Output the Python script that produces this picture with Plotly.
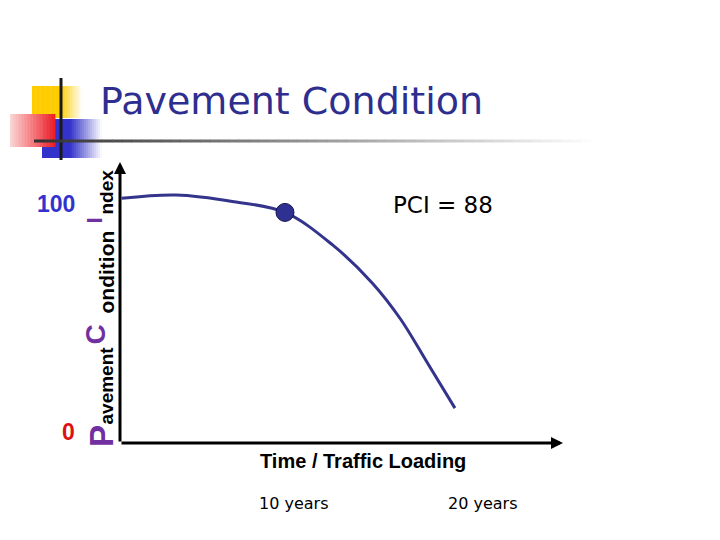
import plotly.graph_objects as go

# curve (years on x, PCI on y)
years = [0.1, 3.4, 6.9, 10.0, 12.9, 15.3, 17.0, 18.6, 20.3]
pci = [102.4, 103.8, 101.0, 96.5, 82.8, 66.9, 51.9, 33.9, 14.6]

dot_year = [10.0]
dot_pci = [96.5]

y_tick_vals = [100, 4.6]
y_tick_text = ['100', '0']
y_tick_colors = ['#3333CC', '#DD1111']

x_tick_vals = [10.5, 22.0]
x_tick_text = ['10 years', '20 years']

X_MAX = 26.85
Y_MAX = 117.6

# page body has an 8px margin, so screen pixels are shifted by this
OFF = 8
# plot box in screen pixels
SL, ST, W, H = 120, 162, 443, 281
L, T = SL - OFF, ST - OFF
ARIAL = 'Liberation Sans, Arial, sans-serif'
TAHOMA = 'DejaVu Sans, Verdana, sans-serif'
PURPLE = '#7030A0'


def px(x):
    return (x - SL) / W


def py(y):
    return (ST + H - y) / H


def lerp(c1, c2, t):
    t = max(0.0, min(1.0, t))
    return 'rgb(%d,%d,%d)' % tuple(round(a + (b - a) * t) for a, b in zip(c1, c2))


fig = go.Figure()

fig.add_trace(go.Scatter(x=years, y=pci, mode='lines',
                         line={'color': '#34348C', 'width': 3, 'shape': 'spline',
                               'smoothing': 1.0},
                         hoverinfo='skip', showlegend=False))
fig.add_trace(go.Scatter(x=dot_year, y=dot_pci, mode='markers',
                         marker={'size': 18, 'color': '#2E3192',
                                 'line': {'color': '#15154A', 'width': 1}},
                         showlegend=False))

shapes = []


def grad_rect(x0, x1, y0, y1, c_left, c_right, solid_until=None, n=30):
    # horizontal gradient made of thin slices
    step = (x1 - x0) / n
    for i in range(n):
        xa = x0 + i * step
        xm = xa + step / 2
        if solid_until is not None:
            t = 0 if xm <= solid_until else (xm - solid_until) / (x1 - solid_until)
        else:
            t = (xm - x0) / (x1 - x0)
        col = lerp(c_left, c_right, t)
        shapes.append(dict(type='rect', xref='paper', yref='paper',
                           x0=px(xa), x1=px(xa + step + 0.4), y0=py(y1), y1=py(y0),
                           fillcolor=col, line={'width': 0}))


# logo squares
grad_rect(32, 82, 86, 118, (255, 204, 0), (255, 255, 255), solid_until=60)
grad_rect(42, 102, 119, 158, (51, 51, 204), (255, 255, 255), solid_until=70)
grad_rect(10, 55, 114, 147, (251, 214, 214), (238, 28, 36))

# vertical logo line
shapes.append(dict(type='line', xref='paper', yref='paper',
                   x0=px(61), x1=px(61), y0=py(78), y1=py(160),
                   line={'color': '#1A1A1A', 'width': 3}))

# fading rule under the title
n = 60
for i in range(n):
    xa = 34 + i * (620 - 34) / n
    xb = xa + (620 - 34) / n + 0.5
    shapes.append(dict(type='line', xref='paper', yref='paper',
                       x0=px(xa), x1=px(xb), y0=py(141), y1=py(141),
                       line={'color': lerp((50, 50, 50), (255, 255, 255), i / n * 1.05),
                             'width': 3}))

annotations = []

# axes with arrowheads
annotations.append(dict(x=X_MAX, y=0, ax=0, ay=0, xref='x', yref='y', axref='x', ayref='y',
                        text='', showarrow=True, arrowhead=2, arrowsize=0.8,
                        arrowwidth=3, arrowcolor='black', standoff=0, startstandoff=0))
annotations.append(dict(x=0, y=Y_MAX, ax=0, ay=0, xref='x', yref='y', axref='x', ayref='y',
                        text='', showarrow=True, arrowhead=2, arrowsize=0.8,
                        arrowwidth=3, arrowcolor='black', standoff=0, startstandoff=0))

# title
annotations.append(dict(x=px(99), y=py(101), xref='paper', yref='paper',
                        xanchor='left', yanchor='middle', showarrow=False,
                        text='Pavement Condition', borderpad=0,
                        font={'family': TAHOMA, 'size': 38, 'color': '#2E2E8F'}))

# rotated y label, piece by piece
pieces = [
    ('ndex', 106, 192.5, 19, 'black'),
    ('I', 94, 220.5, 22, PURPLE),
    ('ondition', 106, 272.5, 21, 'black'),
    ('C', 95, 334.5, 28, PURPLE),
    ('avement', 106, 385.5, 19, 'black'),
    ('P', 101, 436, 33, PURPLE),
]
for txt, cx, cy, size, col in pieces:
    annotations.append(dict(x=px(cx), y=py(cy), xref='paper', yref='paper',
                            xanchor='center', yanchor='middle', showarrow=False,
                            textangle=-90, borderpad=0,
                            text='<b>%s</b>' % txt,
                            font={'family': ARIAL, 'size': size, 'color': col}))

# y tick labels
for v, t, c in zip(y_tick_vals, y_tick_text, y_tick_colors):
    annotations.append(dict(x=px(76), y=v, xref='paper', yref='y',
                            xanchor='right', yanchor='middle', showarrow=False,
                            text='<b>%s</b>' % t, borderpad=0,
                            font={'family': ARIAL, 'size': 23, 'color': c}))

# x tick labels
for v, t in zip(x_tick_vals, x_tick_text):
    annotations.append(dict(x=v, y=py(503), xref='x', yref='paper',
                            xanchor='center', yanchor='middle', showarrow=False,
                            text=t, borderpad=0,
                            font={'family': TAHOMA, 'size': 16, 'color': 'black'}))

annotations.append(dict(x=px(259), y=py(461), xref='paper', yref='paper',
                        xanchor='left', yanchor='middle', showarrow=False,
                        text='<b>Time / Traffic Loading</b>', borderpad=0,
                        font={'family': ARIAL, 'size': 20, 'color': 'black'}))

annotations.append(dict(x=px(392), y=py(205), xref='paper', yref='paper',
                        xanchor='left', yanchor='middle', showarrow=False,
                        text='PCI = 88', borderpad=0,
                        font={'family': TAHOMA, 'size': 23, 'color': 'black'}))

fig.update_layout(width=720, height=540,
                  margin={'l': L, 'r': 720 - L - W, 't': T, 'b': 540 - T - H},
                  paper_bgcolor='white', plot_bgcolor='white',
                  showlegend=False, shapes=shapes, annotations=annotations,
                  xaxis={'range': [0, X_MAX], 'visible': False, 'fixedrange': True},
                  yaxis={'range': [0, Y_MAX], 'visible': False, 'fixedrange': True})

fig.write_html('out.html', config={'displayModeBar': False})
